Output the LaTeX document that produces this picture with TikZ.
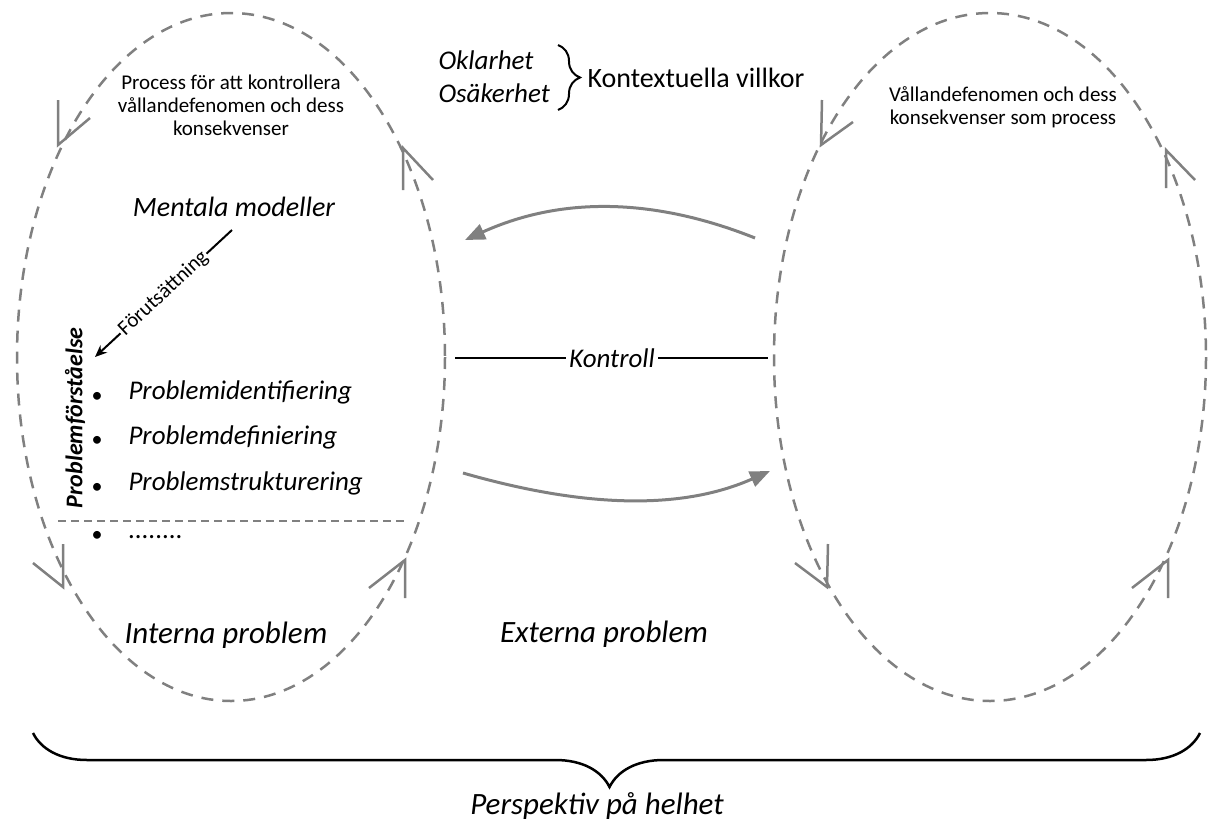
\documentclass[tikz,border=0pt]{standalone}
\usepackage{fontspec}
\setmainfont{Carlito}
\usetikzlibrary{arrows.meta, decorations.pathreplacing}

\definecolor{linegray}{RGB}{128,128,128}

\tikzset{
  cyclepath/.style={draw=linegray, line width=2.5pt, dash pattern=on 12pt off 9pt},
  openbarb/.style={draw=linegray, line width=2.5pt},
  flowarrow/.style={draw=linegray, line width=3pt, -{Triangle[length=20pt,width=16pt]}},
  smalltext/.style={align=center, font=\fontsize{21}{23}\selectfont},
  midtext/.style={anchor=west, font=\fontsize{27}{30}\selectfont\itshape},
  itemtext/.style={anchor=west, text height=0.7em, text depth=0.2em, font=\fontsize{27}{30}\selectfont\itshape},
  dotitem/.style={font=\fontsize{22}{24}\selectfont},
  bigtext/.style={font=\fontsize{31}{34}\selectfont\itshape},
}

\begin{document}
\begin{tikzpicture}[x=1pt, y=-1pt]
		\useasboundingbox (0,0) rectangle (1210,825);
		% the two process cycles
		\draw[cyclepath] (231,357) ellipse [x radius=214, y radius=344];
		\draw[cyclepath] (990,357) ellipse [x radius=216, y radius=344];
		\draw[openbarb] (58,100) -- (58,145) -- (90,118);
		\draw[openbarb] (403,190) -- (403,148) -- (433,180);
		\draw[openbarb] (63,544) -- (63,587) -- (33,563);
		\draw[openbarb] (405,598) -- (405,560) -- (369,588);
		\draw[openbarb] (822,100) -- (821,145) -- (853,122);
		\draw[openbarb] (1166,188) -- (1166,150) -- (1195,180);
		\draw[openbarb] (828,544) -- (827,587) -- (795,563);
		\draw[openbarb] (1168,598) -- (1168,560) -- (1132,588);
		% texts in the cycles
		\node[smalltext] (proc) at (231,105) {Process för att kontrollera\\vållandefenomen och dess\\konsekvenser};
		\node[smalltext] (vall) at (1003,107) {Vållandefenomen och dess\\konsekvenser som process};
		\node[font=\fontsize{28}{30}\selectfont\itshape] (ment) at (234,207) {Mentala modeller};
		\node[rotate=90, font=\fontsize{24}{26}\selectfont\bfseries\itshape] (pfor) at (75,418) {Problemförståelse};
		\coordinate (fa) at (232,230);
		\coordinate (fb) at (95,357);
		\draw[line width=2pt, -{Stealth[length=12pt,width=10pt]}] (fa) -- node[sloped, fill=white, inner sep=1.5pt, font=\fontsize{21}{23}\selectfont] {Förutsättning} (fb);
		\node[dotitem] (b1) at (97,397) {\textbullet};
		\node[dotitem] (b2) at (97,441) {\textbullet};
		\node[dotitem] (b3) at (97,488) {\textbullet};
		\node[dotitem] (b4) at (97,536) {\textbullet};
		\node[itemtext] (pid) at (125,397) {Problemidentifiering};
		\node[itemtext] (pdef) at (125,442) {Problemdefiniering};
		\node[itemtext] (pstr) at (125,488) {Problemstrukturering};
		\node[itemtext] (pdot) at (125,536) {........};
		\draw[draw=linegray, line width=2pt, dash pattern=on 8pt off 5pt] (58,521) -- (405,521);
		\node[bigtext] (intp) at (226,635) {Interna problem};
		\node[bigtext] (extp) at (604,634) {Externa problem};
		% context
		\node[midtext] (okl) at (435,60) {Oklarhet};
		\node[midtext] (osak) at (435,93) {Osäkerhet};
		\draw[line width=2pt, decorate, decoration={brace, amplitude=22pt}] (558,45) -- (558,110);
		\node[font=\fontsize{28}{30}\selectfont, anchor=west] (kont) at (584,78) {Kontextuella villkor};
		% between the cycles
		\draw[flowarrow] (755,238) .. controls (680,208) and (580,188) .. (465,240);
		\draw[flowarrow] (463,473) .. controls (540,495) and (660,520) .. (770,471);
		\node[font=\fontsize{27}{30}\selectfont\itshape] (ktrl) at (612,358) {Kontroll};
		\draw[line width=2pt] (455,358) -- (ktrl.west);
		\draw[line width=2pt] (ktrl.east) -- (768,358);
		% whole
		\draw[line width=2.5pt, decorate, decoration={brace, mirror, amplitude=54pt, aspect=0.494}] (33,733) -- (1200,733);
		\node[font=\fontsize{31}{33}\selectfont\itshape] (pers) at (597,806) {Perspektiv på helhet};
	\end{tikzpicture}
\end{document}
